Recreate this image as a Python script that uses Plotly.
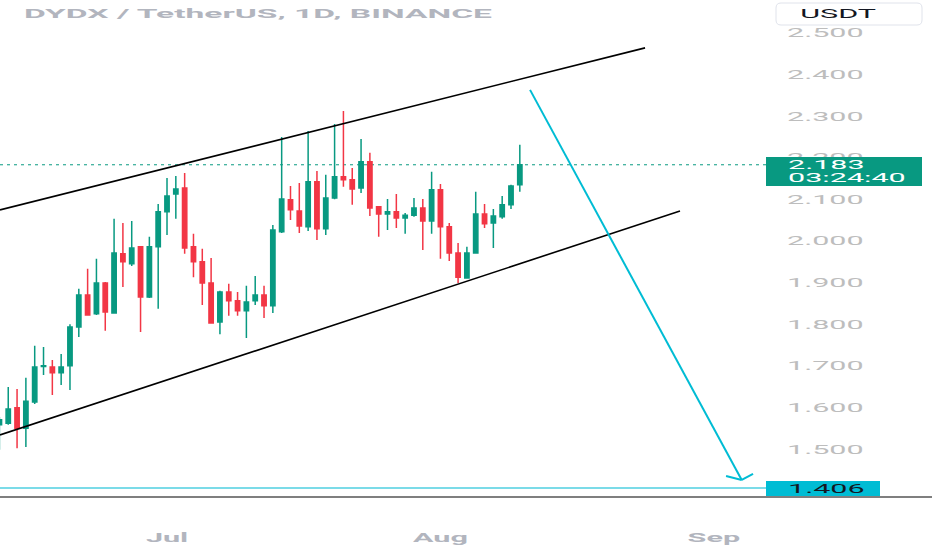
import json
import pandas as pd
import plotly.graph_objects as go

# ---------------- data ----------------
start_date = "2023-06-12"
n_days = 60
dates = pd.date_range(start_date, periods=n_days, freq="D")

open_ = [1.558, 1.562, 1.599, 1.550, 1.613, 1.698, 1.697, 1.683, 1.700, 1.793,
         1.870, 1.825, 1.899, 1.827, 1.969, 1.945, 1.986, 1.865, 1.986, 2.070,
         2.113, 2.127, 1.986, 1.950, 1.899, 1.805, 1.877, 1.856, 1.832, 1.856,
         1.870, 1.844, 2.022, 2.099, 2.072, 2.034, 2.142, 2.029, 2.103, 2.154,
         2.147, 2.127, 2.190, 2.082, 2.065, 2.070, 2.055, 2.062, 2.079, 2.048,
         2.123, 2.034, 1.971, 1.911, 1.971, 2.065, 2.043, 2.058, 2.087, 2.135]
high_ = [1.577, 1.649, 1.644, 1.671, 1.748, 1.745, 1.714, 1.728, 1.800, 1.885,
         1.933, 1.957, 1.901, 2.053, 2.043, 2.048, 1.988, 2.010, 2.089, 2.151,
         2.156, 2.163, 2.017, 1.981, 1.959, 1.880, 1.897, 1.877, 1.892, 1.916,
         1.892, 2.038, 2.250, 2.132, 2.139, 2.264, 2.168, 2.159, 2.281, 2.312,
         2.175, 2.245, 2.212, 2.084, 2.101, 2.113, 2.067, 2.103, 2.101, 2.166,
         2.137, 2.043, 1.995, 1.986, 2.118, 2.089, 2.077, 2.108, 2.135, 2.231]
low_ = [1.498, 1.558, 1.502, 1.505, 1.608, 1.678, 1.630, 1.654, 1.642, 1.769,
        1.820, 1.822, 1.784, 1.825, 1.889, 1.940, 1.781, 1.863, 1.837, 2.014,
        2.053, 1.969, 1.913, 1.846, 1.801, 1.776, 1.820, 1.820, 1.767, 1.846,
        1.815, 1.827, 2.019, 2.050, 2.019, 2.024, 2.002, 2.014, 2.100, 2.130,
        2.087, 2.115, 2.060, 2.010, 2.026, 2.031, 2.017, 2.058, 1.978, 2.017,
        1.957, 1.952, 1.899, 1.909, 1.969, 2.031, 1.983, 2.053, 2.077, 2.118]
close_ = [1.570, 1.596, 1.550, 1.615, 1.697, 1.700, 1.683, 1.697, 1.793, 1.870,
          1.822, 1.899, 1.829, 1.971, 1.950, 1.983, 1.865, 1.986, 2.070, 2.108,
          2.125, 1.983, 1.950, 1.899, 1.803, 1.877, 1.856, 1.832, 1.853, 1.870,
          1.844, 2.026, 2.101, 2.075, 2.036, 2.142, 2.029, 2.103, 2.154, 2.147,
          2.125, 2.190, 2.079, 2.065, 2.070, 2.055, 2.062, 2.079, 2.048, 2.123,
          2.034, 1.971, 1.913, 1.971, 2.065, 2.041, 2.060, 2.087, 2.132, 2.183]

y_tick_vals = [1.5, 1.6, 1.7, 1.8, 1.9, 2.0, 2.1, 2.2, 2.3, 2.4, 2.5]
y_tick_text = ["1.500", "1.600", "1.700", "1.800", "1.900", "2.000",
               "2.100", "2.200", "2.300", "2.400", "2.500"]
x_tick_vals = ["2023-07-01", "2023-08-01", "2023-09-01"]
x_tick_text = ["Jul", "Aug", "Sep"]

title_text = "DYDX / TetherUS, 1D, BINANCE"
currency_text = "USDT"
countdown_text = "03:24:40"

target_price = 1.406
last_price = close_[-1]

# drawings (channel lines and projection arrow)
upper_line_x = ["2023-06-12 01:35", "2023-08-24 04:48"]
upper_line_y = [2.0745, 2.464]
lower_line_x = ["2023-06-12 01:35", "2023-08-28 03:50"]
lower_line_y = [1.5337, 2.072]
arrow_x = ["2023-08-11 03:50", "2023-09-04 03:50"]
arrow_y = [2.363, 1.4255]
arrow_wing_x = ["2023-09-02 09:07", "2023-09-05 10:33"]
arrow_wing_y = [1.435, 1.440]

# ---------------- style / layout ----------------
W, H = 932, 550
PLOT_R = 766      # right edge of the price pane (px)
PLOT_B = 497      # bottom edge of the price pane (px)
GREEN = "#089981"
RED = "#F23645"
CYAN = "#00BCD4"
FONT = "Roboto"


def px(x):
    return x / PLOT_R


def py(y):
    return (PLOT_B - y) / PLOT_B


fig = go.Figure()
fig.add_trace(go.Candlestick(
    x=dates, open=open_, high=high_, low=low_, close=close_,
    increasing=dict(line=dict(color=GREEN, width=1.5), fillcolor=GREEN),
    decreasing=dict(line=dict(color=RED, width=1.5), fillcolor=RED),
    whiskerwidth=0, hoverinfo="skip", showlegend=False,
))

shapes = []
# last price dotted line
shapes.append(dict(type="line", xref="paper", yref="y", x0=0, x1=1,
                   y0=last_price, y1=last_price,
                   line=dict(color=GREEN, width=1, dash="3px,4px"), layer="below"))
# target horizontal line
shapes.append(dict(type="line", xref="paper", yref="y", x0=0, x1=1,
                   y0=target_price, y1=target_price,
                   line=dict(color="#4FCFE0", width=1.5)))
# channel lines
for lx, ly in ((upper_line_x, upper_line_y), (lower_line_x, lower_line_y)):
    shapes.append(dict(type="line", xref="x", yref="y", x0=lx[0], x1=lx[1],
                       y0=ly[0], y1=ly[1], line=dict(color="#000000", width=1.6)))
# arrow
shapes.append(dict(type="line", xref="x", yref="y", x0=arrow_x[0], x1=arrow_x[1],
                   y0=arrow_y[0], y1=arrow_y[1], line=dict(color=CYAN, width=2)))
for wx, wy in zip(arrow_wing_x, arrow_wing_y):
    shapes.append(dict(type="line", xref="x", yref="y", x0=arrow_x[1], x1=wx,
                       y0=arrow_y[1], y1=wy, line=dict(color=CYAN, width=2)))
# bottom separator line (full width)
shapes.append(dict(type="line", xref="paper", yref="paper", x0=0, x1=px(W),
                   y0=0, y1=0, line=dict(color="#555555", width=1.5)))
# last price label box
shapes.append(dict(type="rect", xref="paper", yref="paper",
                   x0=px(766), x1=px(922), y0=py(186), y1=py(157),
                   fillcolor=GREEN, line=dict(width=0)))
# target label box
shapes.append(dict(type="rect", xref="paper", yref="paper",
                   x0=px(766), x1=px(880), y0=py(496), y1=py(481),
                   fillcolor=CYAN, line=dict(width=0)))
# currency box (rounded)
bx0, bx1, by0, by1, r = 776, 922, 3, 25, 5
path = (f"M {px(bx0 + r)} {py(by0)} L {px(bx1 - r)} {py(by0)} "
        f"Q {px(bx1)} {py(by0)} {px(bx1)} {py(by0 + r)} "
        f"L {px(bx1)} {py(by1 - r)} Q {px(bx1)} {py(by1)} {px(bx1 - r)} {py(by1)} "
        f"L {px(bx0 + r)} {py(by1)} Q {px(bx0)} {py(by1)} {px(bx0)} {py(by1 - r)} "
        f"L {px(bx0)} {py(by0 + r)} Q {px(bx0)} {py(by0)} {px(bx0 + r)} {py(by0)} Z")
shapes.append(dict(type="path", xref="paper", yref="paper", path=path,
                   fillcolor="#FFFFFF", line=dict(color="#E0E3EB", width=1)))

annotations = [
    dict(text=title_text, xref="paper", yref="paper", x=px(22), y=py(14),
         xanchor="left", yanchor="middle", showarrow=False, align="left",
         font=dict(family=FONT, size=13, color="#B2B5BE", weight="bold")),
    dict(text=currency_text, xref="paper", yref="paper", x=px(838), y=py(14),
         xanchor="center", yanchor="middle", showarrow=False,
         font=dict(family=FONT, size=13, color="#131722")),
    dict(text=f"{last_price:.3f}", xref="paper", yref="paper", x=px(786), y=py(164.5),
         xanchor="left", yanchor="middle", showarrow=False, align="left",
         font=dict(family=FONT, size=13, color="#FFFFFF")),
    dict(text=countdown_text, xref="paper", yref="paper", x=px(786), y=py(177),
         xanchor="left", yanchor="middle", showarrow=False, align="left",
         font=dict(family=FONT, size=13, color="#FFFFFF")),
    dict(text=f"{target_price:.3f}", xref="paper", yref="paper", x=px(786), y=py(488.5),
         xanchor="left", yanchor="middle", showarrow=False, align="left",
         font=dict(family=FONT, size=13, color="#131722")),
]

x_range = ["2023-06-12 01:35", "2023-09-06 21:50"]
y_range = [1.3846, 2.579]

fig.update_layout(
    template="none",
    width=W, height=H,
    margin=dict(l=0, r=W - PLOT_R, t=0, b=H - PLOT_B),
    paper_bgcolor="#FFFFFF", plot_bgcolor="#FFFFFF",
    showlegend=False, boxgap=0.3,
    shapes=shapes, annotations=annotations,
    xaxis=dict(type="date", range=x_range, tickvals=x_tick_vals, ticktext=x_tick_text,
               showgrid=False, zeroline=False, showline=False, ticks="",
               rangeslider=dict(visible=False), automargin=False,
               ticklabelstandoff=31,
               tickfont=dict(family=FONT, size=13, color="#B2B5BE", weight="bold")),
    yaxis=dict(side="right", range=y_range, tickvals=y_tick_vals, ticktext=y_tick_text,
               showgrid=False, zeroline=False, showline=False, ticks="",
               automargin=False, ticklabelstandoff=20,
               tickfont=dict(family=FONT, size=13, color="#BDBDBD")),
)

STRETCH = 2.35
TARGET_WIDTHS = {title_text: 468}

post_js = """
document.documentElement.style.margin = '0';
document.body.style.margin = '0';
document.body.style.padding = '0';
document.body.style.overflow = 'hidden';
var gd = document.getElementById('{plot_id}');
var targets = TARGETS_JSON;
var factor = FACTOR_VAL;
function stretchText(){
  var nodes = gd.querySelectorAll('svg text');
  for (var i = 0; i < nodes.length; i++) {
    var t = nodes[i];
    var s = t.textContent;
    if (!s) continue;
    t.removeAttribute('textLength');
    var w = t.getComputedTextLength();
    if (!(w > 0)) continue;
    var target = targets.hasOwnProperty(s) ? targets[s] : w * factor;
    t.setAttribute('lengthAdjust', 'spacingAndGlyphs');
    t.setAttribute('textLength', target.toFixed(1));
  }
}
stretchText();
if (gd.on) { gd.on('plotly_afterplot', stretchText); }
setTimeout(stretchText, 50);
""".replace("TARGETS_JSON", json.dumps(TARGET_WIDTHS)).replace("FACTOR_VAL", str(STRETCH))

fig.write_html("out.html", config={"displayModeBar": False}, post_script=post_js)
